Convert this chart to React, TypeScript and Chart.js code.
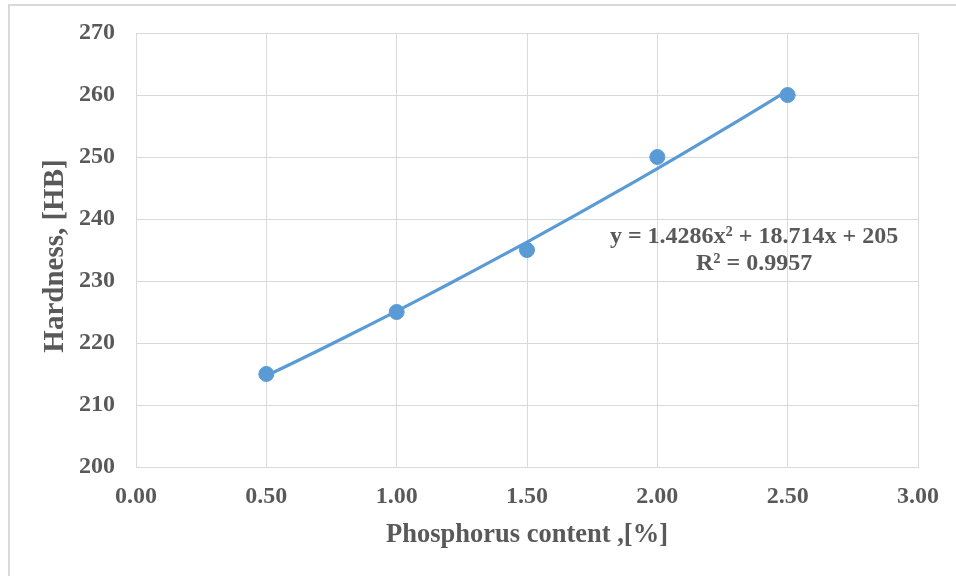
import React, { useEffect, useRef } from "react";
import { Chart, registerables } from "chart.js";

Chart.register(...registerables);

const phosphorus = [0.5, 1.0, 1.5, 2.0, 2.5];
const hardness = [215, 225, 235, 250, 260];
// Trendline coefficients as printed in the chart: y = a x^2 + b x + c
const trendCoeffs = [1.4286, 18.714, 205];
const trendX = [0.5, 0.6, 0.7, 0.8, 0.9, 1.0, 1.1, 1.2, 1.3, 1.4, 1.5, 1.6, 1.7, 1.8, 1.9, 2.0, 2.1, 2.2, 2.3, 2.4, 2.5];
const equationLines = ["y = 1.4286x\u00B2 + 18.714x + 205", "R\u00B2 = 0.9957"];
const xTitle = "Phosphorus content ,[%]";
const yTitle = "Hardness, [HB]";

const FONT = "'Liberation Serif', 'Times New Roman', serif";
const TEXT = "#595959";
const GRID = "#d9d9d9";
const BLUE = "#5b9bd5";

export default function App() {
  const ref = useRef<HTMLCanvasElement | null>(null);
  useEffect(() => {
    if (!ref.current) return;
    const trend = trendX.map((x) => ({
      x,
      y: trendCoeffs[0] * x * x + trendCoeffs[1] * x + trendCoeffs[2],
    }));
    const textPlugin = {
      id: "texts",
      afterDatasetsDraw(chart: any) {
        const ctx = chart.ctx;
        const xs = chart.scales.x;
        const ys = chart.scales.y;
        ctx.save();
        ctx.font = `bold 24px ${FONT}`;
        ctx.fillStyle = TEXT;
        ctx.textAlign = "center";
        ctx.textBaseline = "middle";
        const cx = xs.getPixelForValue(2.371);
        ctx.fillText(equationLines[0], cx, ys.getPixelForValue(237.1));
        ctx.fillText(equationLines[1], cx, ys.getPixelForValue(232.7));
        ctx.restore();
        ctx.save();
        ctx.font = `bold 29px ${FONT}`;
        ctx.fillStyle = TEXT;
        ctx.textAlign = "center";
        ctx.textBaseline = "middle";
        ctx.translate(56, (chart.chartArea.top + chart.chartArea.bottom) / 2 + 6);
        ctx.rotate(-Math.PI / 2);
        ctx.fillText(yTitle, 0, 0);
        ctx.restore();
      },
    };
    const chart = new Chart(ref.current, {
      type: "scatter",
      data: {
        datasets: [
          {
            data: trend,
            showLine: true,
            borderColor: BLUE,
            borderWidth: 3.2,
            pointRadius: 0,
            tension: 0,
            order: 2,
          },
          {
            data: phosphorus.map((x, i) => ({ x, y: hardness[i] })),
            backgroundColor: BLUE,
            borderColor: BLUE,
            pointRadius: 7.5,
            order: 1,
          },
        ],
      },
      options: {
        animation: false,
        responsive: false,
        layout: { padding: { left: 0, right: 38, top: 33, bottom: 0 } },
        plugins: { legend: { display: false }, tooltip: { enabled: false } },
        scales: {
          x: {
            type: "linear",
            min: 0,
            max: 3,
            afterFit: (s: any) => {
              s.height = 109;
              s.paddingLeft = 0;
              s.paddingRight = 0;
            },
            ticks: {
              stepSize: 0.5,
              padding: 15,
              color: TEXT,
              font: { family: FONT, size: 24, weight: "bold" },
              callback: (v: any) => Number(v).toFixed(2),
            },
            grid: { color: GRID, lineWidth: 1, drawTicks: false },
            border: { color: GRID },
            title: {
              display: true,
              text: xTitle,
              color: TEXT,
              font: { family: FONT, size: 26.5, weight: "bold" },
              padding: { top: 0, bottom: 25 },
            },
          },
          y: {
            min: 200,
            max: 270,
            afterFit: (s: any) => {
              s.width = 136;
              s.paddingTop = 0;
              s.paddingBottom = 0;
            },
            ticks: {
              stepSize: 10,
              padding: 21,
              color: TEXT,
              font: { family: FONT, size: 24, weight: "bold" },
            },
            grid: { color: GRID, lineWidth: 1, drawTicks: false },
            border: { color: GRID },
            title: { display: false, text: yTitle },
          },
        },
      },
      plugins: [textPlugin],
    });
    return () => chart.destroy();
  }, []);
  return (
    <div style={{ position: "fixed", left: 0, top: 0, width: 956, height: 576, background: "#fff" }}>
      <div
        style={{
          position: "absolute",
          left: 8,
          top: 4,
          width: 960,
          height: 580,
          borderLeft: "2px solid #d9d9d9",
          borderTop: "2px solid #d9d9d9",
          boxSizing: "border-box",
        }}
      />
      <canvas ref={ref} width={956} height={576} style={{ position: "absolute", left: 0, top: 0 }} />
    </div>
  );
}
